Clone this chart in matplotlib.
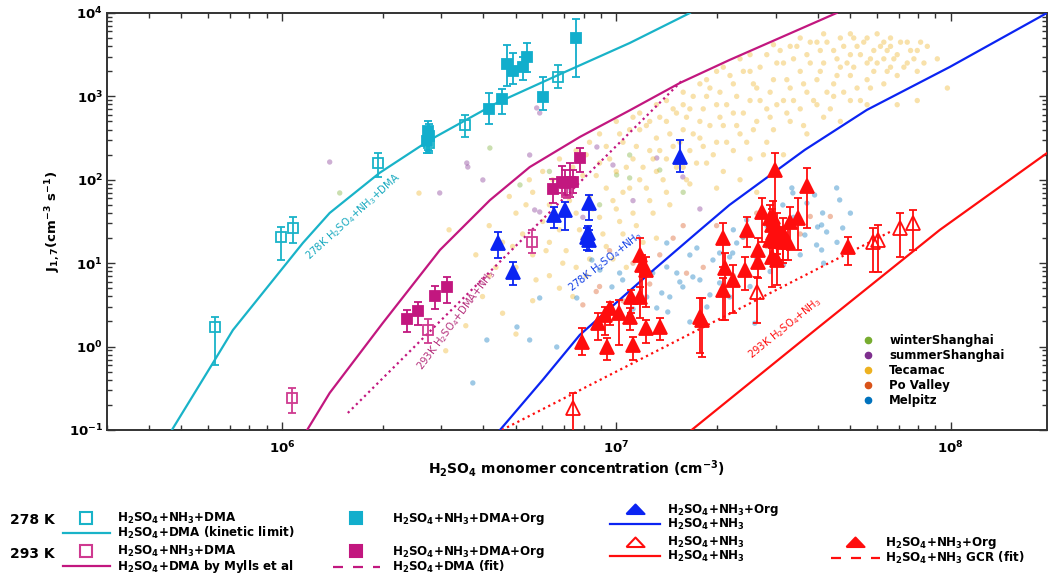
import numpy as np
import matplotlib.pyplot as plt
from matplotlib.lines import Line2D
from matplotlib.legend_handler import HandlerLine2D

plt.rcParams['font.family'] = ['DejaVu Sans']
plt.rcParams['font.weight'] = 'bold'
plt.rcParams['axes.labelweight'] = 'bold'
plt.rcParams['mathtext.default'] = 'regular'
plt.rcParams['axes.linewidth'] = 1.4

CYAN = '#19B3C8'
CYAN_F = '#12AECC'
MAG = '#C2177F'
MAG_O = '#CF3A90'
BLUE = '#0B24F2'
RED = '#FF0D0D'

# ---- model / fit curves (H2SO4 in 1e6 cm-3, J in cm-3 s-1) ----
cyan_line_x = [0.469, 0.622, 0.714, 1.156, 1.39, 1.96, 2.77, 4.39, 6.92, 10.97, 16.6]
cyan_line_y = [0.1, 0.635, 1.58, 17.5, 40, 121, 300, 834, 1910, 4365, 10000]
mag_line_x = [1.19, 1.39, 2.0, 2.97, 4.19, 5.51, 7.78, 10.97, 15.5, 21.8, 45.6]
mag_line_y = [0.1, 0.278, 1.9, 14.4, 57, 142, 326, 680, 1449, 2730, 10000]
mag_fit_x = [1.575, 15.8]
mag_fit_y = [0.16, 1575]
blue_line_x = [4.49, 6.03, 7.78, 12.3, 17.8, 21.8, 36.6, 56.1, 99.4, 194]
blue_line_y = [0.1, 0.40, 1.38, 7.0, 25, 49.9, 228, 687, 2254, 10000]
red_line_x = [16.8, 40, 92.7, 194]
red_line_y = [0.1, 1.67, 25, 209]
red_fit_x = [4.55, 65.8]
red_fit_y = [0.1, 23.7]

# ---- chamber data: x, J, lower, upper ----
cyan_open_x = [0.631, 0.993, 1.079, 1.94, 2.75, 3.52, 6.68]
cyan_open_y = [1.72, 20.6, 26.4, 158, 276, 454, 1710]
cyan_open_lo = [0.60, 10.9, 17.5, 108, 209, 326, 1260]
cyan_open_hi = [2.27, 27.0, 35.8, 209, 330, 598, 2380]

cyan_fill_x = [2.73, 2.75, 2.71, 4.16, 4.55, 4.71, 4.91, 5.25, 5.40, 6.03, 7.57]
cyan_fill_y = [385, 335, 292, 706, 931, 2443, 2018, 2254, 2965, 984, 5010]
cyan_fill_lo = [230, 220, 209, 467, 615, 1334, 1409, 1575, 1963, 687, 1710]
cyan_fill_hi = [500, 470, 430, 1099, 1227, 4130, 3311, 2965, 4365, 1710, 8470]

mag_open_x = [1.071, 2.73, 5.59, 7.11]
mag_open_y = [0.242, 1.58, 18.0, 71.5]
mag_open_lo = [0.16, 1.10, 13.2, 60]
mag_open_hi = [0.319, 2.14, 25.0, 88]

mag_fill_x = [2.37, 2.55, 2.87, 3.11, 6.46, 6.87, 7.01, 7.26, 7.41, 7.78]
mag_fill_y = [2.14, 2.67, 4.04, 5.19, 77.6, 94, 91.6, 94, 94, 182]
mag_fill_lo = [1.50, 1.82, 2.83, 3.33, 52.7, 69.5, 66, 62, 70, 124]
mag_fill_hi = [2.75, 3.43, 5.33, 6.84, 102, 146, 130, 158, 130, 240]

blue_fill_x = [4.43, 4.91, 6.50, 7.01, 8.28, 8.16, 8.28, 8.22, 15.5]
blue_fill_y = [17.5, 7.83, 37.8, 43.5, 52.7, 20.6, 19.0, 23.0, 187]
blue_fill_lo = [11.5, 5.48, 26.4, 25.0, 33.0, 14.4, 14.0, 17.0, 124]
blue_fill_hi = [23.7, 10.3, 47.2, 54.2, 65.8, 26.4, 25.0, 28.0, 300]

red_open_x = [7.41, 26.3, 58.5, 60.5, 70.4, 77.0]
red_open_y = [0.184, 4.52, 17.9, 19.0, 26.4, 30.3]
red_open_lo = [0.09, 1.92, 7.83, 7.83, 11.9, 14.4]
red_open_hi = [0.278, 6.9, 26.4, 28.7, 40.0, 43.5]

red_fill_x = [7.88, 8.81, 9.24, 9.57, 10.2, 11.0, 11.1, 11.8, 9.37, 11.2, 12.3, 13.5,
              11.8, 11.9, 12.3, 17.8, 18.1, 20.9, 21.1, 20.9, 22.3, 29.8, 37.2, 27.2,
              28.8, 29.4, 29.2, 30.2, 31.5, 33.0, 34.9, 24.6, 26.5, 26.5, 24.2, 29.2,
              30.2, 28.8, 30.4, 31.5, 32.6, 29.4, 49.2]
red_fill_y = [1.14, 1.92, 2.39, 2.90, 2.53, 2.27, 3.94, 3.94, 0.99, 1.04, 1.67, 1.72,
              12.5, 9.5, 8.28, 2.27, 2.08, 20.0, 8.75, 4.77, 6.29, 131, 84.3, 41.1,
              34.8, 35.8, 28.7, 26.4, 23.0, 31.2, 34.8, 25.0, 14.4, 10.3, 8.28, 11.9,
              10.9, 19.0, 19.0, 17.9, 17.9, 23.0, 15.6]
red_fill_lo = [0.79, 1.20, 1.38, 1.82, 1.04, 1.58, 2.53, 2.20, 0.69, 0.69, 1.10, 1.20,
               3.43, 3.62, 2.99, 0.84, 0.75, 9.0, 2.08, 2.08, 2.53, 28.7, 26.4, 17.9,
               16.5, 17.0, 15.0, 13.0, 11.0, 14.4, 14.4, 15.6, 10.0, 6.64, 4.77, 5.19,
               5.5, 10.0, 11.0, 10.0, 10.9, 13.0, 9.5]
red_fill_hi = [1.67, 2.53, 2.99, 3.43, 3.62, 2.90, 4.77, 5.19, 1.27, 1.30, 2.08, 2.20,
               20.0, 12.5, 11.9, 3.83, 3.83, 30.3, 13.2, 6.64, 9.5, 209, 138, 60.5,
               49.9, 55.0, 45.0, 40.0, 35.0, 47.2, 60.5, 35.8, 20.0, 13.6, 11.9, 15.6,
               15.0, 28.0, 27.0, 26.0, 27.2, 33.0, 20.6]

# ---- field observations (log10 of H2SO4 cm-3, log10 of J) ----
tec_logx = [6.55, 6.58, 6.60, 6.62, 6.62, 6.66, 6.66, 6.70, 6.70, 6.70, 6.72, 6.75, 6.75, 6.75,
            6.78, 6.78, 6.80, 6.80, 6.80, 6.83, 6.83, 6.83, 6.85, 6.85, 6.88, 6.88, 6.88,
            6.90, 6.90, 6.92, 6.92, 6.92, 6.95, 6.95, 6.95, 6.97, 6.97, 6.97, 7.00, 7.00, 7.00,
            7.02, 7.02, 7.02, 7.05, 7.05, 7.05, 7.07, 7.07, 7.07, 7.10, 7.10, 7.10,
            7.12, 7.12, 7.12, 7.15, 7.15, 7.15, 7.15, 7.17, 7.17, 7.20, 7.20, 7.20, 7.20,
            7.22, 7.22, 7.22, 7.25, 7.25, 7.25, 7.27, 7.27, 7.27, 7.30, 7.30, 7.30, 7.30,
            7.32, 7.32, 7.32, 7.35, 7.35, 7.35, 7.37, 7.37, 7.37, 7.40, 7.40, 7.40, 7.40,
            7.42, 7.42, 7.42, 7.45, 7.45, 7.45, 7.47, 7.47, 7.47, 7.50, 7.50, 7.50,
            7.52, 7.52, 7.52, 7.55, 7.55, 7.55, 7.57, 7.57, 7.57, 7.60, 7.60, 7.60,
            7.62, 7.62, 7.62, 7.65, 7.65, 7.65, 7.67, 7.67, 7.67, 7.70, 7.70, 7.70, 7.70,
            7.72, 7.72, 7.75, 7.75, 7.75, 7.75, 7.77, 7.77, 7.80, 7.80, 7.80,
            7.82, 7.82, 7.82, 7.84, 7.84, 7.84, 7.87, 7.87, 7.90, 7.90, 7.90, 7.93, 7.96, 7.99,
            6.41, 6.50, 6.49,
            6.86, 6.87, 6.89, 6.91, 6.93, 6.94, 6.96, 6.98, 6.99, 7.01, 7.01, 7.03, 7.04, 7.04,
            7.06, 7.06, 7.08, 7.09, 7.09, 7.11, 7.11, 7.13, 7.13, 7.14, 7.16, 7.16, 7.18, 7.18,
            7.19, 7.21, 7.21, 7.23, 7.23, 7.24, 7.26, 7.26, 7.28, 7.28, 7.29, 7.31, 7.31, 7.33,
            7.33, 7.34, 7.36, 7.36, 7.38, 7.38, 7.39, 7.41, 7.41, 7.43, 7.43, 7.44, 7.46, 7.46,
            7.48, 7.48, 7.49, 7.51, 7.51, 7.53, 7.53, 7.54, 7.56, 7.56, 7.58, 7.58, 7.59, 7.61,
            7.61, 7.63, 7.63, 7.64, 7.66, 7.66, 7.68, 7.68, 7.69, 7.71, 7.71, 7.73, 7.73, 7.74,
            7.76, 7.76, 7.78, 7.78, 7.79, 7.81, 7.81, 7.83, 7.85, 7.86, 7.88, 7.89, 7.91, 7.92,
            6.84, 6.79, 6.76, 6.73, 6.69, 6.64, 6.87, 6.91, 6.99, 7.03, 7.08, 7.12, 6.81, 6.74, 6.68]
tec_logy = [0.25, 1.10, 0.60, 1.45, 0.85, 1.25, 0.40, 1.60, 0.95, 0.15, 1.35, 1.85, 1.10, 0.55,
            1.50, 2.10, 0.85, 1.70, 1.25, 2.25, 1.40, 0.70, 1.95, 1.15, 2.35, 1.60, 0.95,
            2.05, 1.30, 2.45, 1.80, 1.05, 2.20, 1.55, 2.55, 1.90, 1.20, 2.40, 2.70, 2.10, 1.65,
            2.45, 1.85, 1.35, 2.75, 2.25, 1.60, 2.60, 2.00, 2.80, 2.35, 1.75, 2.70,
            2.90, 2.50, 2.10, 2.70, 2.25, 1.85, 2.95, 2.85, 2.40, 3.05, 2.60, 2.15, 2.90,
            2.85, 2.35, 1.95, 3.15, 2.70, 2.50, 3.20, 2.20, 3.00, 2.90, 2.45, 1.90, 3.30,
            3.35, 2.65, 2.10, 3.15, 2.80, 2.35, 3.45, 2.55, 2.00, 3.30, 2.95, 2.25, 3.50,
            2.70, 3.10, 1.85, 3.50, 2.85, 2.45, 3.20, 2.60, 3.62, 3.40, 2.95, 2.30,
            3.60, 3.10, 2.70, 3.30, 2.85, 3.70, 3.50, 3.05, 2.55, 3.65, 3.20, 2.90,
            3.40, 3.75, 2.75, 3.55, 3.15, 3.00, 3.70, 3.35, 2.70, 3.50, 3.25, 3.75, 2.95,
            3.60, 3.10, 3.70, 3.40, 3.20, 2.90, 3.55, 3.30, 3.65, 3.45, 3.15,
            3.60, 3.35, 3.70, 3.50, 3.25, 2.90, 3.65, 3.40, 3.55, 3.30, 2.95, 3.60, 3.45, 3.10,
            1.84, 1.40, -0.05,
            1.75, 2.15, 1.40, 2.30, 1.65, 2.05, 1.35, 2.25, 1.75, 2.55, 1.50, 2.15, 1.90, 2.60,
            1.45, 2.40, 2.15, 1.90, 2.65, 2.25, 1.60, 2.75, 2.35, 2.00, 2.55, 1.70, 2.80, 2.15,
            2.45, 2.75, 2.00, 2.55, 3.00, 2.20, 2.85, 2.40, 2.65, 3.10, 2.30, 3.05, 2.75, 2.90,
            2.45, 3.25, 2.65, 3.00, 3.30, 2.80, 2.45, 3.15, 2.60, 3.35, 2.95, 2.30, 3.05, 2.75,
            3.40, 2.90, 3.55, 3.20, 2.80, 3.45, 2.95, 3.60, 3.15, 2.65, 3.40, 3.65, 2.95, 3.30,
            3.55, 3.05, 3.65, 2.85, 3.45, 3.25, 3.60, 3.05, 3.40, 3.70, 3.35, 3.50, 2.95, 3.65,
            3.45, 3.10, 3.75, 3.40, 3.60, 3.30, 3.55, 3.45, 3.65, 3.35, 3.55, 3.45, 3.65, 3.40,
            1.00, 1.15, 0.80, 1.70, 1.20, 0.95, 0.60, 0.85, 1.05, 0.95, 1.25, 1.30, 2.00, 2.00, 1.80]

mel_logx = [7.498, 7.525, 7.528, 7.593, 7.659, 7.668, 7.617, 7.614, 7.602, 7.629, 7.599, 7.614,
            7.677, 7.564, 7.390, 7.360, 7.348, 7.378, 7.339, 7.151, 7.220, 7.241, 7.289, 7.309,
            7.151, 7.181, 7.190, 7.199, 7.229, 7.109, 7.136, 7.121, 7.154, 7.010, 6.987, 7.019,
            6.951, 6.927, 7.091, 7.160, 7.220, 7.271, 7.250, 7.309, 7.339, 6.571, 6.613, 6.703,
            6.741, 6.771, 6.882, 6.822, 7.45, 7.48, 7.53, 7.42, 7.46, 7.55, 7.50, 7.40, 7.28,
            7.62, 7.70, 7.66, 7.05, 7.35, 7.57, 7.414]
mel_logy = [1.698, 1.902, 1.842, 1.818, 1.902, 1.758, 1.602, 1.458, 1.434, 1.374, 1.218, 1.158,
            1.422, 1.338, 1.518, 1.242, 1.122, 1.314, 1.074, 1.242, 1.098, 1.182, 1.038, 1.122,
            0.954, 0.882, 0.775, 0.715, 0.835, 0.882, 0.643, 0.463, 0.415, 0.882, 0.715, 0.799,
            0.918, 1.038, 0.595, 0.595, 0.295, 0.475, 0.799, 0.763, 0.595, -0.436, 0.079, 0.235,
            0.079, 0.583, 0.583, -0.005, 1.45, 1.30, 1.55, 1.05, 0.90, 1.10, 0.98, 0.72, 0.62,
            1.00, 1.60, 1.25, 0.45, 1.40, 1.72, 0.28]

po_logx = [7.13, 6.95, 6.94, 7.21, 7.38, 7.58, 7.64, 7.05, 7.26, 7.17, 7.45, 6.90, 7.30,
           7.02, 7.55, 7.10, 7.35, 6.98, 7.42, 7.20]
po_logy = [1.10, 0.72, 0.66, 0.88, 1.31, 1.56, 1.56, 1.00, 0.95, 1.30, 1.20, 0.50, 1.45,
           0.55, 1.35, 0.75, 0.85, 1.15, 1.60, 1.45]

summer_logx = [6.143, 6.553, 6.556, 6.601, 6.472, 6.762, 6.771, 6.741, 6.942, 6.990, 6.771,
               6.756, 7.199, 7.121, 6.86, 7.05, 6.90, 7.25]
summer_logy = [2.213, 2.201, 2.153, 1.998, 1.842, 2.861, 2.801, 2.297, 2.393, 2.177, 1.614,
               1.638, 2.034, 2.261, 1.90, 1.75, 1.55, 1.65]

winter_logx = [6.173, 6.622, 6.712, 7.001, 7.040, 7.040, 7.130, 6.95, 7.20, 6.80]
winter_logy = [1.842, 2.381, 1.938, 2.058, 2.022, 2.297, 2.117, 1.70, 1.85, 2.10]

field_sets = [
    ('winterShanghai', '#77AC30', winter_logx, winter_logy),
    ('summerShanghai', '#7E2F8E', summer_logx, summer_logy),
    ('Tecamac', '#EDB120', tec_logx, tec_logy),
    ('Po Valley', '#D95319', po_logx, po_logy),
    ('Melpitz', '#0072BD', mel_logx, mel_logy),
]

fig = plt.figure(figsize=(10.48, 5.74), dpi=100)
ax = fig.add_axes([0.1021, 0.2509, 0.8969, 0.7265])
ax.set_xscale('log')
ax.set_yscale('log')

for name, col, lx, ly in field_sets:
    ax.scatter(10 ** np.array(lx), 10 ** np.array(ly), s=15, color=col, alpha=0.38,
               edgecolors='none', zorder=1)

M = 1e6
ax.plot(np.array(cyan_line_x) * M, cyan_line_y, color=CYAN, lw=1.6, zorder=3)
ax.plot(np.array(mag_line_x) * M, mag_line_y, color=MAG, lw=1.6, zorder=3)
ax.plot(np.array(mag_fit_x) * M, mag_fit_y, color=MAG, lw=1.6, ls=(0, (1, 1.6)), zorder=3)
ax.plot(np.array(blue_line_x) * M, blue_line_y, color=BLUE, lw=1.6, zorder=3)
ax.plot(np.array(red_line_x) * M, red_line_y, color=RED, lw=1.6, zorder=3)
ax.plot(np.array(red_fit_x) * M, red_fit_y, color=RED, lw=1.6, ls=(0, (1, 1.6)), zorder=3)


def errpts(xs, ys, lo, hi, marker, color, filled, ms):
    ys = np.array(ys)
    yerr = [ys - np.array(lo), np.array(hi) - ys]
    ax.errorbar(np.array(xs) * M, ys, yerr=yerr, fmt=marker, ms=ms,
                mfc=color if filled else 'none', mec=color, mew=1.3,
                ecolor=color, elinewidth=1.3, capsize=2.6, capthick=1.3, zorder=4)


errpts(cyan_open_x, cyan_open_y, cyan_open_lo, cyan_open_hi, 's', CYAN, False, 7.5)
errpts(cyan_fill_x, cyan_fill_y, cyan_fill_lo, cyan_fill_hi, 's', CYAN_F, True, 7)
errpts(mag_open_x, mag_open_y, mag_open_lo, mag_open_hi, 's', MAG_O, False, 7.5)
errpts(mag_fill_x, mag_fill_y, mag_fill_lo, mag_fill_hi, 's', MAG, True, 7)
errpts(blue_fill_x, blue_fill_y, blue_fill_lo, blue_fill_hi, '^', BLUE, True, 9.5)
errpts(red_open_x, red_open_y, red_open_lo, red_open_hi, '^', RED, False, 9.5)
errpts(red_fill_x, red_fill_y, red_fill_lo, red_fill_hi, '^', RED, True, 9.5)

ax.set_xlim(3e5, 1.94e8)
ax.set_ylim(0.1, 1e4)

for s in ax.spines.values():
    s.set_color('#333333')
ax.tick_params(which='both', direction='in', top=True, right=True, width=1.0, color='#333333')
ax.tick_params(which='major', length=6, labelsize=9.5)
ax.tick_params(axis='x', which='major', pad=7)
ax.tick_params(axis='y', which='major', pad=3)
ax.tick_params(which='minor', length=3.5)

ax.set_xlabel(r'H$_2$SO$_4$ monomer concentration (cm$^{-3}$)', fontsize=10, fontweight='bold')
ax.set_ylabel(r'J$_{1,7}$(cm$^{-3}$ s$^{-1}$)', fontsize=9.5, fontweight='bold')
ax.xaxis.set_label_coords(0.5, -0.068)
ax.yaxis.set_label_coords(-0.047, 0.5)

# curve annotations
ax.text(0.262, 0.511, r'278K H$_2$SO$_4$+NH$_3$+DMA', transform=ax.transAxes, rotation=42,
        ha='center', va='center', rotation_mode='anchor', fontsize=7.3, fontweight='normal', color='#17A9BF')
ax.text(0.372, 0.264, r'293K H$_2$SO$_4$+DMA+NH$_3$', transform=ax.transAxes, rotation=53,
        ha='center', va='center', rotation_mode='anchor', fontsize=7.3, fontweight='normal', color='#B5307C')
ax.text(0.530, 0.403, r'278K H$_2$SO$_4$+NH$_3$', transform=ax.transAxes, rotation=38,
        ha='center', va='center', rotation_mode='anchor', fontsize=7.3, fontweight='normal', color='#1240E6')
ax.text(0.721, 0.245, r'293K H$_2$SO$_4$+NH$_3$', transform=ax.transAxes, rotation=39,
        ha='center', va='center', rotation_mode='anchor', fontsize=7.3, fontweight='normal', color=RED)

# field-site legend
field_handles = [Line2D([], [], ls='none', marker='o', ms=4.5, color=c) for _, c, _, _ in field_sets]
ax.legend(field_handles, [n for n, _, _, _ in field_sets], loc='upper left',
          bbox_to_anchor=((862 - 107) / 940, (430 - 334) / 417), frameon=False,
          borderpad=0, borderaxespad=0, handlelength=1.0, handletextpad=1.3,
          labelspacing=0.18, fontsize=8.5)


class KeyHandler(HandlerLine2D):
    def __init__(self, frac, **kw):
        super().__init__(**kw)
        self.frac = frac

    def get_xdata(self, legend, xdescent, ydescent, width, height, fontsize):
        return [-xdescent, -xdescent + width], [-xdescent + self.frac * width]


wide_tri = [(-1, -0.5), (1, -0.5), (0, 0.55), (-1, -0.5)]


def mk(marker, color, filled, ms):
    return Line2D([], [], ls='none', marker=marker, ms=ms, mew=1.5,
                  mfc=color if filled else 'none', mec=color)


def ln(color, dashed=False):
    if dashed:
        return Line2D([], [], color=color, lw=1.6, ls=(0, (4.5, 4.5)))
    return Line2D([], [], color=color, lw=1.6)


cells = [
    ((63, 511), [mk('s', CYAN, False, 8), ln(CYAN)],
     [r'H$_2$SO$_4$+NH$_3$+DMA', r'H$_2$SO$_4$+DMA (kinetic limit)'], 3.9, 0.6, 0.66),
    ((333, 511), [mk('s', CYAN_F, True, 8)],
     [r'H$_2$SO$_4$+NH$_3$+DMA+Org'], 3.9, 1.0, 0.66),
    ((610, 502), [mk(wide_tri, BLUE, True, 13), ln(BLUE)],
     [r'H$_2$SO$_4$+NH$_3$+Org', r'H$_2$SO$_4$+NH$_3$'], 4.2, 0.55, 0.59),
    ((63, 544), [mk('s', MAG_O, False, 8), ln(MAG)],
     [r'H$_2$SO$_4$+NH$_3$+DMA', r'H$_2$SO$_4$+DMA by Mylls et al'], 3.9, 0.6, 0.66),
    ((333, 544), [mk('s', MAG, True, 8), ln(MAG, True)],
     [r'H$_2$SO$_4$+NH$_3$+DMA+Org', r'H$_2$SO$_4$+DMA (fit)'], 3.9, 1.0, 0.66),
    ((610, 535), [mk(wide_tri, RED, False, 13), ln(RED)],
     [r'H$_2$SO$_4$+NH$_3$', r'H$_2$SO$_4$+NH$_3$'], 4.2, 0.55, 0.59),
    ((831, 535), [mk(wide_tri, RED, True, 13), ln(RED, True)],
     [r'H$_2$SO$_4$+NH$_3$+Org', r'H$_2$SO$_4$+NH$_3$ GCR (fit)'], 4.1, 0.4, 0.56),
]
W, H = 1048, 574
for (px, py), handles, labels, hl, tp, frac in cells:
    fig.legend(handles, labels, loc='upper left', bbox_to_anchor=(px / W, 1 - py / H),
               frameon=False, borderpad=0, borderaxespad=0, handlelength=hl,
               handletextpad=tp, labelspacing=-0.1, fontsize=8.6,
               handler_map={Line2D: KeyHandler(frac)})

fig.text(10 / W, 1 - 520 / H, '278 K', fontsize=10, va='center', ha='left')
fig.text(10 / W, 1 - 554 / H, '293 K', fontsize=10, va='center', ha='left')

fig.savefig('out.png', dpi=100)
